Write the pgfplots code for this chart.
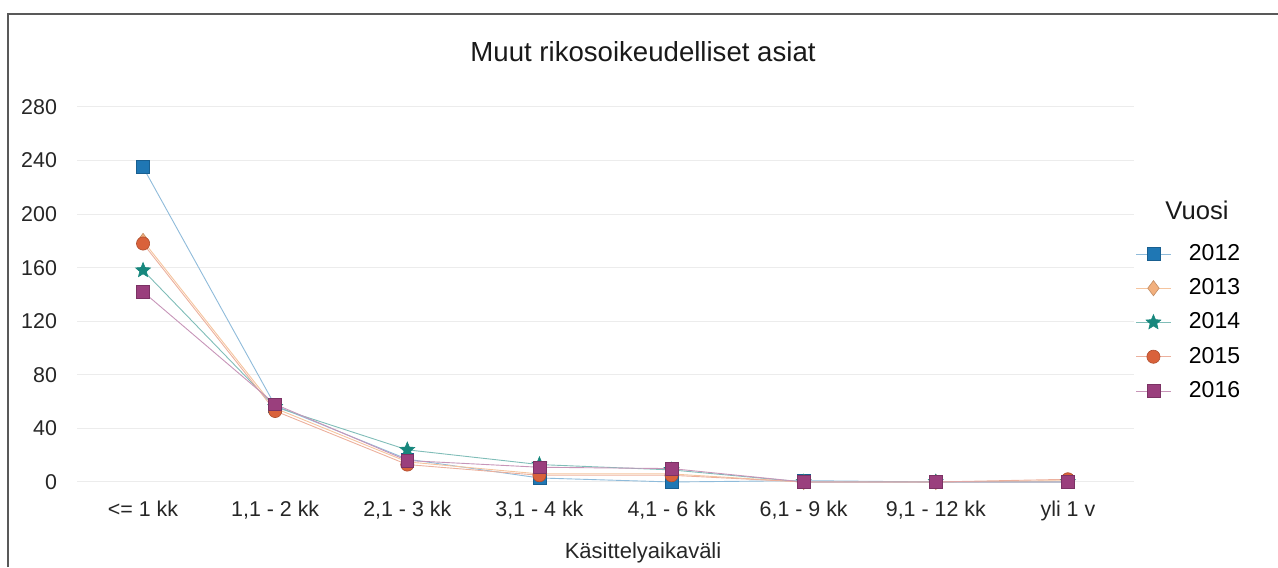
\documentclass[border=0pt]{standalone}
\usepackage{pgfplots}
\pgfplotsset{compat=1.18}
\usepackage{fontspec}
\setmainfont{Liberation Sans}
\definecolor{c12}{HTML}{1F77B4}
\definecolor{c13}{HTML}{F2B07E}
\definecolor{c14}{HTML}{17877D}
\definecolor{c15}{HTML}{D9623B}
\definecolor{c16}{HTML}{9A3F7D}
\pgfdeclareplotmark{fstar}{%
  \pgfpathmoveto{\pgfqpointpolar{90}{\pgfplotmarksize}}%
  \pgfpathlineto{\pgfqpointpolar{126}{0.45\pgfplotmarksize}}%
  \pgfpathlineto{\pgfqpointpolar{162}{\pgfplotmarksize}}%
  \pgfpathlineto{\pgfqpointpolar{198}{0.45\pgfplotmarksize}}%
  \pgfpathlineto{\pgfqpointpolar{234}{\pgfplotmarksize}}%
  \pgfpathlineto{\pgfqpointpolar{270}{0.45\pgfplotmarksize}}%
  \pgfpathlineto{\pgfqpointpolar{306}{\pgfplotmarksize}}%
  \pgfpathlineto{\pgfqpointpolar{342}{0.45\pgfplotmarksize}}%
  \pgfpathlineto{\pgfqpointpolar{18}{\pgfplotmarksize}}%
  \pgfpathlineto{\pgfqpointpolar{54}{0.45\pgfplotmarksize}}%
  \pgfpathclose
  \pgfusepathqfillstroke}
\begin{document}
\begin{tikzpicture}
\useasboundingbox (0,0) rectangle (639pt,283.5pt);
\draw[gray!70!black, line width=0.6pt] (4pt,0) -- (4pt,276.5pt) -- (639pt,276.5pt);
\begin{axis}[
  at={(38.5pt,37.15pt)}, anchor=south west,
  scale only axis, width=528.5pt, height=192.9pt,
  xmin=-0.5, xmax=7.5, ymin=-8, ymax=280,
  xtick={0,...,7},
  xticklabels={{<= 1 kk},{1,1 - 2 kk},{2,1 - 3 kk},{3,1 - 4 kk},{4,1 - 6 kk},{6,1 - 9 kk},{9,1 - 12 kk},{yli 1 v}},
  ytick={0,40,...,280},
  ymajorgrids, grid style={gray!15, line width=0.5pt},
  axis line style={draw=none}, tick style={draw=none},
  /pgf/number format/assume math mode=true,
  ticklabel style={font=\fontsize{10.7}{12}\selectfont, text=black!85},
  yticklabel style={xshift=-6.5pt},
  xticklabel style={yshift=-0.5pt},
  clip=false,
  legend style={at={(axis description cs:1.0015,0.655)}, anchor=north west, draw=none, fill=none,
    font=\fontsize{11.5}{13}\selectfont, row sep=3.6pt, inner sep=0pt,
    /tikz/every odd column/.append style={column sep=7pt}},
  legend cell align=left,
  legend image post style={line width=0.4pt},
]
\addplot[c12!50, line width=0.45pt, mark=square*, mark size=3.2pt, mark options={fill=c12, draw=c12!80!black, line width=0.3pt}]
 coordinates {(0,235) (1,57) (2,17) (3,3) (4,0) (5,1) (6,0) (7,0)};
\addlegendentry{2012}
\addplot[c13!75, line width=0.45pt, mark=diamond*, mark size=3.8pt, mark options={fill=c13, draw=c13!80!black, line width=0.3pt}]
 coordinates {(0,180) (1,55) (2,15) (3,6) (4,6) (5,0) (6,0) (7,1)};
\addlegendentry{2013}
\addplot[c14!55, line width=0.45pt, mark=fstar, mark size=3.9pt, mark options={fill=c14, draw=c14, line width=0.3pt}]
 coordinates {(0,158) (1,56) (2,24) (3,13) (4,9) (5,0) (6,0) (7,0)};
\addlegendentry{2014}
\addplot[c15!50, line width=0.45pt, mark=*, mark size=3.3pt, mark options={fill=c15, draw=c15!80!black, line width=0.3pt}]
 coordinates {(0,178) (1,53) (2,13) (3,5) (4,5) (5,0) (6,0) (7,2)};
\addlegendentry{2015}
\addplot[c16!55, line width=0.45pt, mark=square*, mark size=3.2pt, mark options={fill=c16, draw=c16!80!black, line width=0.3pt}]
 coordinates {(0,142) (1,58) (2,16) (3,11) (4,10) (5,0) (6,0) (7,0)};
\addlegendentry{2016}
\node[font=\fontsize{13.8}{16}\selectfont, text=black!90] at (axis description cs:0.5355,1.1426) {Muut rikosoikeudelliset asiat};
\node[font=\fontsize{11}{13}\selectfont, text=black!85] at (axis description cs:0.5355,-0.156) {Käsittelyaikaväli};
\node[font=\fontsize{12.8}{15}\selectfont, text=black!90] at (axis description cs:1.0596,0.733) {Vuosi};
\end{axis}
\end{tikzpicture}
\end{document}
